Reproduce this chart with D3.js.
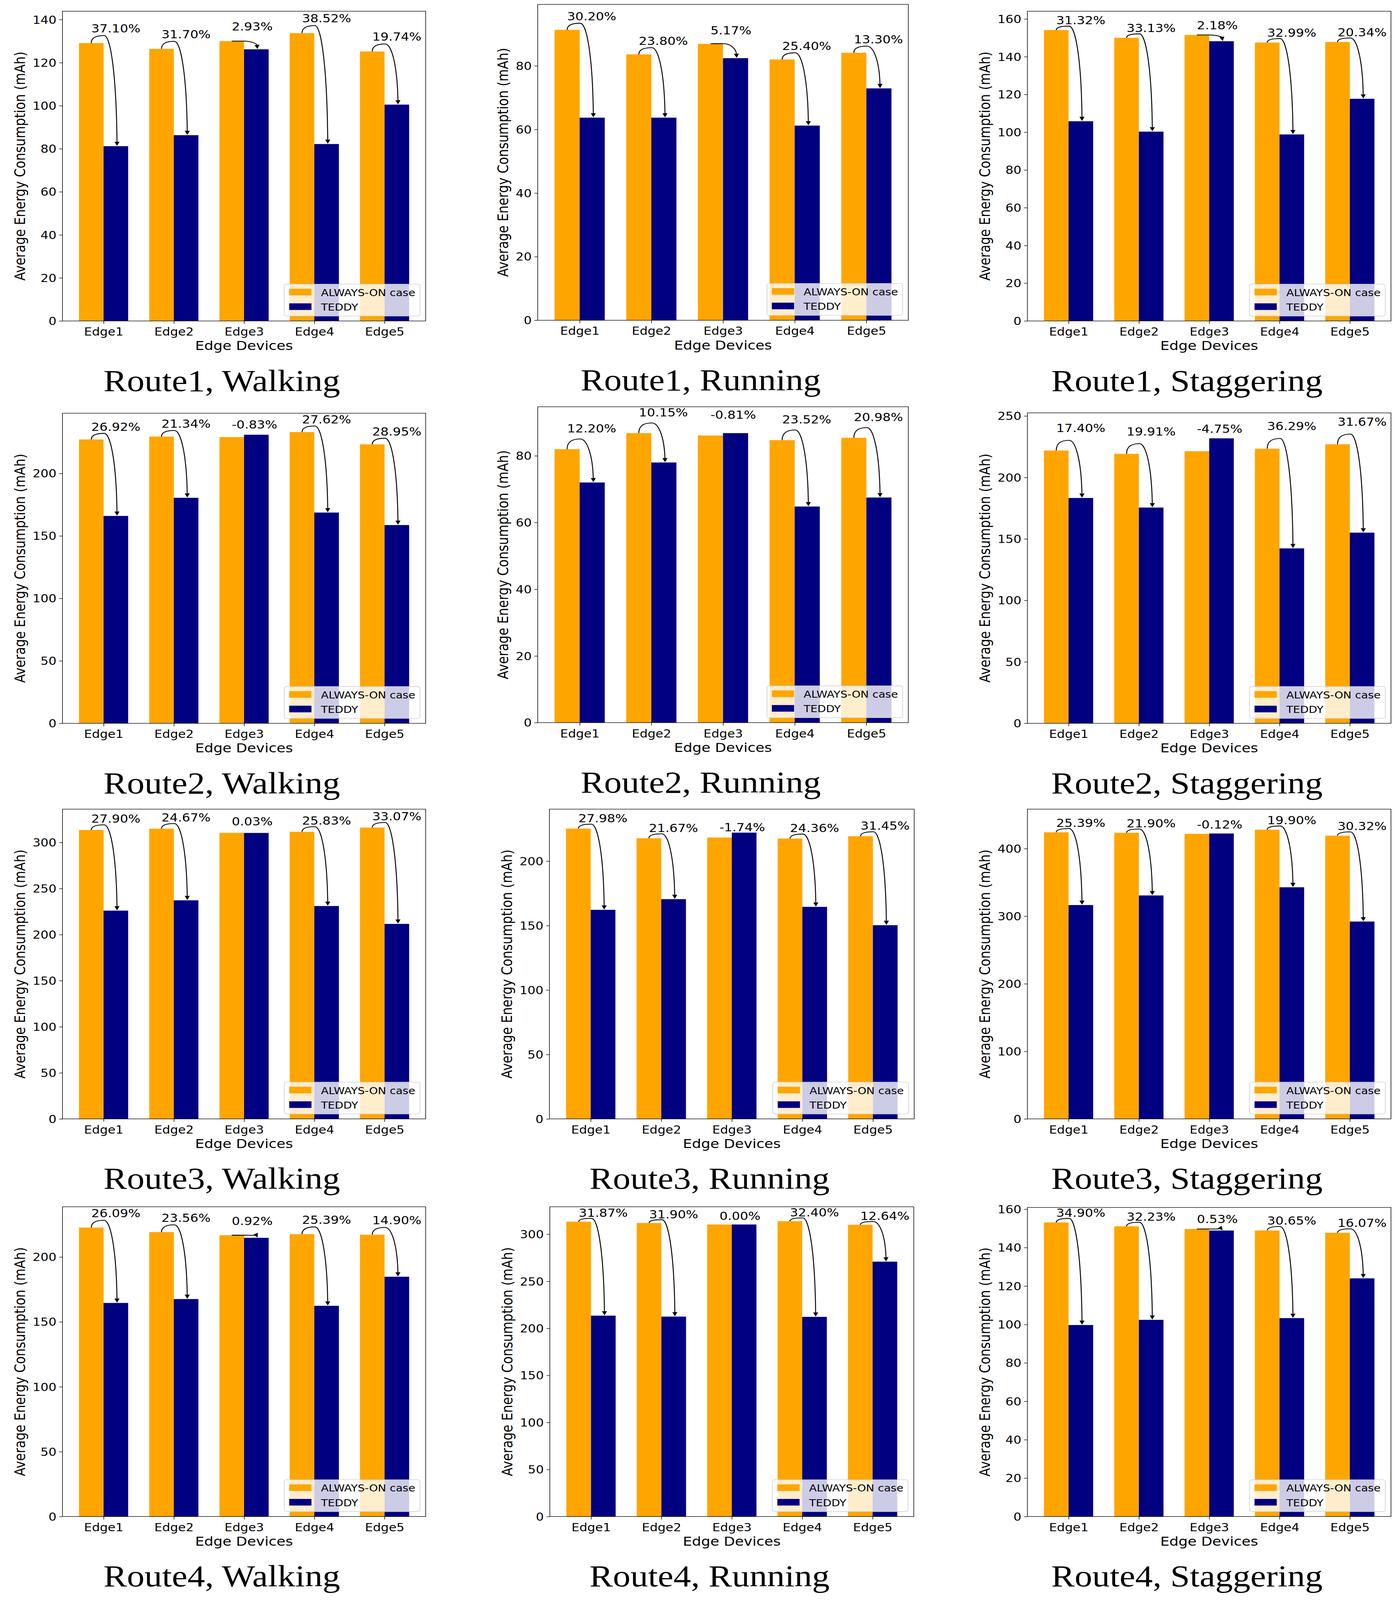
<!DOCTYPE html>
<html>
<head>
<meta charset="utf-8">
<script src="https://cdn.jsdelivr.net/npm/d3@7"></script>
<style>
  html, body { margin: 0; padding: 0; background: #fff; overflow: hidden; }
  #chart { display: block; width: 100vw; height: 100vh; }
</style>
</head>
<body>
<svg id="chart"></svg>
<script>
// ---- data ----
const edges = ["Edge1", "Edge2", "Edge3", "Edge4", "Edge5"];
const routes = ["Route1", "Route2", "Route3", "Route4"];
const activities = ["Walking", "Running", "Staggering"];
const seriesNames = ["ALWAYS-ON case", "TEDDY"];

// one row per panel: Route1 Walking, Route1 Running, Route1 Staggering, Route2 Walking ...
const alwaysOn = [
  [129.1, 126.4, 130.0, 133.7, 125.2],
  [91.3, 83.6, 86.9, 82.0, 84.1],
  [154.1, 150.0, 151.5, 147.5, 147.8],
  [227.2, 229.5, 229.1, 233.1, 223.3],
  [82.0, 86.8, 86.1, 84.7, 85.4],
  [221.9, 219.2, 221.3, 223.4, 227.0],
  [313.5, 314.9, 310.4, 311.5, 316.1],
  [225.2, 217.7, 218.3, 217.5, 219.3],
  [424.2, 423.4, 421.9, 428.0, 419.2],
  [222.7, 219.2, 216.8, 217.6, 217.2],
  [313.4, 312.0, 310.4, 313.9, 310.1],
  [153.1, 151.1, 149.7, 148.9, 147.7]
];
const teddy = [
  [81.2, 86.3, 126.2, 82.2, 100.5],
  [63.7, 63.7, 82.4, 61.2, 72.9],
  [105.8, 100.3, 148.2, 98.8, 117.7],
  [166.0, 180.5, 231.0, 168.7, 158.7],
  [72.0, 78.0, 86.8, 64.8, 67.5],
  [183.3, 175.5, 231.8, 142.3, 155.1],
  [226.0, 237.2, 310.3, 231.0, 211.6],
  [162.2, 170.5, 222.1, 164.5, 150.3],
  [316.5, 330.7, 422.4, 342.8, 292.1],
  [164.6, 167.6, 214.8, 162.4, 184.8],
  [213.5, 212.5, 310.4, 212.2, 270.9],
  [99.7, 102.4, 148.9, 103.3, 124.0]
];
const reduction = [
  [37.10, 31.70, 2.93, 38.52, 19.74],
  [30.20, 23.80, 5.17, 25.40, 13.30],
  [31.32, 33.13, 2.18, 32.99, 20.34],
  [26.92, 21.34, -0.83, 27.62, 28.95],
  [12.20, 10.15, -0.81, 23.52, 20.98],
  [17.40, 19.91, -4.75, 36.29, 31.67],
  [27.90, 24.67, 0.03, 25.83, 33.07],
  [27.98, 21.67, -1.74, 24.36, 31.45],
  [25.39, 21.90, -0.12, 19.90, 30.32],
  [26.09, 23.56, 0.92, 25.39, 14.90],
  [31.87, 31.90, 0.00, 32.40, 12.64],
  [34.90, 32.23, 0.53, 30.65, 16.07]
];
const yTicks = [
  [0, 20, 40, 60, 80, 100, 120, 140],
  [0, 20, 40, 60, 80],
  [0, 20, 40, 60, 80, 100, 120, 140, 160],
  [0, 50, 100, 150, 200],
  [0, 20, 40, 60, 80],
  [0, 50, 100, 150, 200, 250],
  [0, 50, 100, 150, 200, 250, 300],
  [0, 50, 100, 150, 200],
  [0, 100, 200, 300, 400],
  [0, 50, 100, 150, 200],
  [0, 50, 100, 150, 200, 250, 300],
  [0, 20, 40, 60, 80, 100, 120, 140, 160]
];

// ---- layout ----
const W = 3580, H = 4716;
// axes box of every panel in page pixels: left, top, right, bottom
const boxes = [
  [160, 33, 1090, 946], [1377, 13, 2326, 944], [2631, 33, 3562, 946],
  [160, 1218, 1090, 2132], [1377, 1199, 2326, 2130], [2631, 1217, 3562, 2132],
  [160, 2385, 1090, 3298], [1407, 2385, 2341, 3298], [2631, 2385, 3562, 3298],
  [160, 3557, 1090, 4470], [1408, 3557, 2340, 4470], [2631, 3559, 3562, 4470]
];
const yTop = [143.9, 99.3, 164.1, 248.2, 94.7, 252.5, 336.1, 240.3, 458.4, 238.7, 329.2, 160.9];
const labelLift = [5, 3, 3, 7, 5, 15, 8, 5, 8, 8, 5, 3];   // label height above the orange bar, data units

const barW = 0.35;
const colors = ["orange", "navy"];
const sans = "'DejaVu Sans', sans-serif";
const serif = "'Liberation Serif', 'DejaVu Serif', serif";

// the drawing is laid out at 3580x4716 and stretched onto whatever window we get
const svg = d3.select("#chart")
  .attr("viewBox", `0 0 ${W} ${H}`)
  .attr("preserveAspectRatio", "none");

svg.append("rect").attr("width", W).attr("height", H).attr("fill", "#fff");

const root = svg.append("g").style("font-family", sans);

// curved arrow from top of orange bar to top of teddy bar
function arrowParts(ax, ay, bx, by, liftPx) {
  const dx = bx - ax, drop = by - ay;
  const k = Math.max(0, Math.min(1, (drop - 40) / 40));
  const h = Math.min(0.7 * liftPx, 30) * k;
  const px = ax + 0.5 * dx, py = ay - h;
  const c4x = bx - 0.03 * dx, c4y = py + 0.35 * (by - py);
  let ux = bx - c4x, uy = by - c4y;
  const n = Math.hypot(ux, uy); ux /= n; uy /= n;
  const ex = bx - 12 * ux, ey = by - 12 * uy;
  const line = `M${ax},${ay} C${ax},${ay - 0.75 * h} ${px - 0.3 * dx},${py} ${px},${py} ` +
               `C${px + 0.25 * dx},${py} ${c4x},${c4y} ${ex},${ey}`;
  const head = [[bx, by], [ex - 6.5 * uy, ey + 6.5 * ux], [ex + 6.5 * uy, ey - 6.5 * ux]];
  return {line, head};
}

boxes.forEach((b, p) => {
  const [left, top, right, bottom] = b;
  const x = d3.scaleLinear().domain([-0.585, 4.585]).range([left, right]);
  const y = d3.scaleLinear().domain([0, yTop[p]]).range([bottom, top]);
  const g = root.append("g");

  // bars
  g.selectAll("rect.on").data(alwaysOn[p]).join("rect")
    .attr("class", "on")
    .attr("x", (d, i) => x(i - barW))
    .attr("width", x(barW) - x(0))
    .attr("y", d => y(d))
    .attr("height", d => y(0) - y(d))
    .attr("fill", colors[0]);
  g.selectAll("rect.td").data(teddy[p]).join("rect")
    .attr("class", "td")
    .attr("x", (d, i) => x(i))
    .attr("width", x(barW) - x(0))
    .attr("y", d => y(d))
    .attr("height", d => y(0) - y(d))
    .attr("fill", colors[1]);

  // reduction labels and arrows
  edges.forEach((e, i) => {
    const on = alwaysOn[p][i], td = teddy[p][i], pct = reduction[p][i];
    const ax = x(i - barW / 2), ay = y(on);
    g.append("text")
      .attr("x", ax)
      .attr("y", y(on + labelLift[p]))
      .attr("font-size", 33)
      .text(pct.toFixed(2) + "%");
    if (pct > 0.1) {
      const liftPx = y(0) - y(labelLift[p]);
      const a = arrowParts(ax, ay, x(i + barW / 2) + 3, y(td) - 1, liftPx);
      g.append("path").attr("d", a.line)
        .attr("fill", "none").attr("stroke", "#000").attr("stroke-width", 2.4);
      g.append("polygon").attr("points", a.head.map(q => q.join(",")).join(" "))
        .attr("fill", "#000");
    }
  });

  // axes
  const yAxis = g.append("g")
    .attr("transform", `translate(${left},0)`)
    .call(d3.axisLeft(y).tickValues(yTicks[p]).tickSize(8.5).tickPadding(7).tickFormat(d3.format("d")));
  const xAxis = g.append("g")
    .attr("transform", `translate(0,${bottom})`)
    .call(d3.axisBottom(x).tickValues([0, 1, 2, 3, 4]).tickSize(8.5).tickPadding(12)
      .tickFormat(i => edges[i]));
  [yAxis, xAxis].forEach(ax => {
    ax.select(".domain").remove();
    ax.attr("font-family", null).attr("font-size", null);
    ax.selectAll("line").attr("stroke", "#000").attr("stroke-width", 1.5);
    ax.selectAll("text").attr("font-size", 32).attr("fill", "#000");
  });
  yAxis.selectAll("text").attr("dy", "0.36em");

  let tickW = 0;
  yAxis.selectAll("text").each(function() { tickW = Math.max(tickW, this.getComputedTextLength()); });

  // frame
  g.append("rect")
    .attr("x", left).attr("y", top)
    .attr("width", right - left).attr("height", bottom - top)
    .attr("fill", "none").attr("stroke", "#000").attr("stroke-width", 1.5);

  // axis titles
  g.append("text")
    .attr("x", (left + right) / 2)
    .attr("y", bottom + 86)
    .attr("text-anchor", "middle")
    .attr("font-size", 37)
    .text("Edge Devices");
  g.append("text")
    .attr("transform", `translate(${left - tickW - 35},${(top + bottom) / 2}) rotate(-90)`)
    .attr("text-anchor", "middle")
    .attr("font-size", 37)
    .text("Average Energy Consumption (mAh)");

  // legend, lower right
  const lg = g.append("g");
  const lt = seriesNames.map((s, k) => lg.append("text")
    .attr("x", 94).attr("y", 35 + 43 * k)
    .attr("font-size", 28.5)
    .text(s));
  const textW = d3.max(lt, t => t.node().getComputedTextLength());
  const lw = 94 + textW + 12, lh = 94;
  lg.insert("rect", "text")
    .attr("width", lw).attr("height", lh)
    .attr("rx", 6).attr("ry", 6)
    .attr("fill", "#fff").attr("fill-opacity", 0.8)
    .attr("stroke", "#cccccc").attr("stroke-width", 1.5);
  seriesNames.forEach((s, k) => {
    lg.insert("rect", "text")
      .attr("x", 12.6).attr("y", 13.6 + 43 * k)
      .attr("width", 57).attr("height", 19.5)
      .attr("fill", colors[k]);
  });
  lg.attr("transform", `translate(${right - 14.5 - lw},${bottom - 14.5 - lh})`);

  // panel caption (serif, as in the paper figure)
  const route = routes[Math.floor(p / 3)], act = activities[p % 3];
  root.append("text")
    .attr("x", (left + right) / 2 - 57)
    .attr("y", bottom + 206)
    .attr("text-anchor", "middle")
    .style("font-family", serif)
    .attr("font-size", 90)
    .text(`${route}, ${act}`);
});
</script>
</body>
</html>
